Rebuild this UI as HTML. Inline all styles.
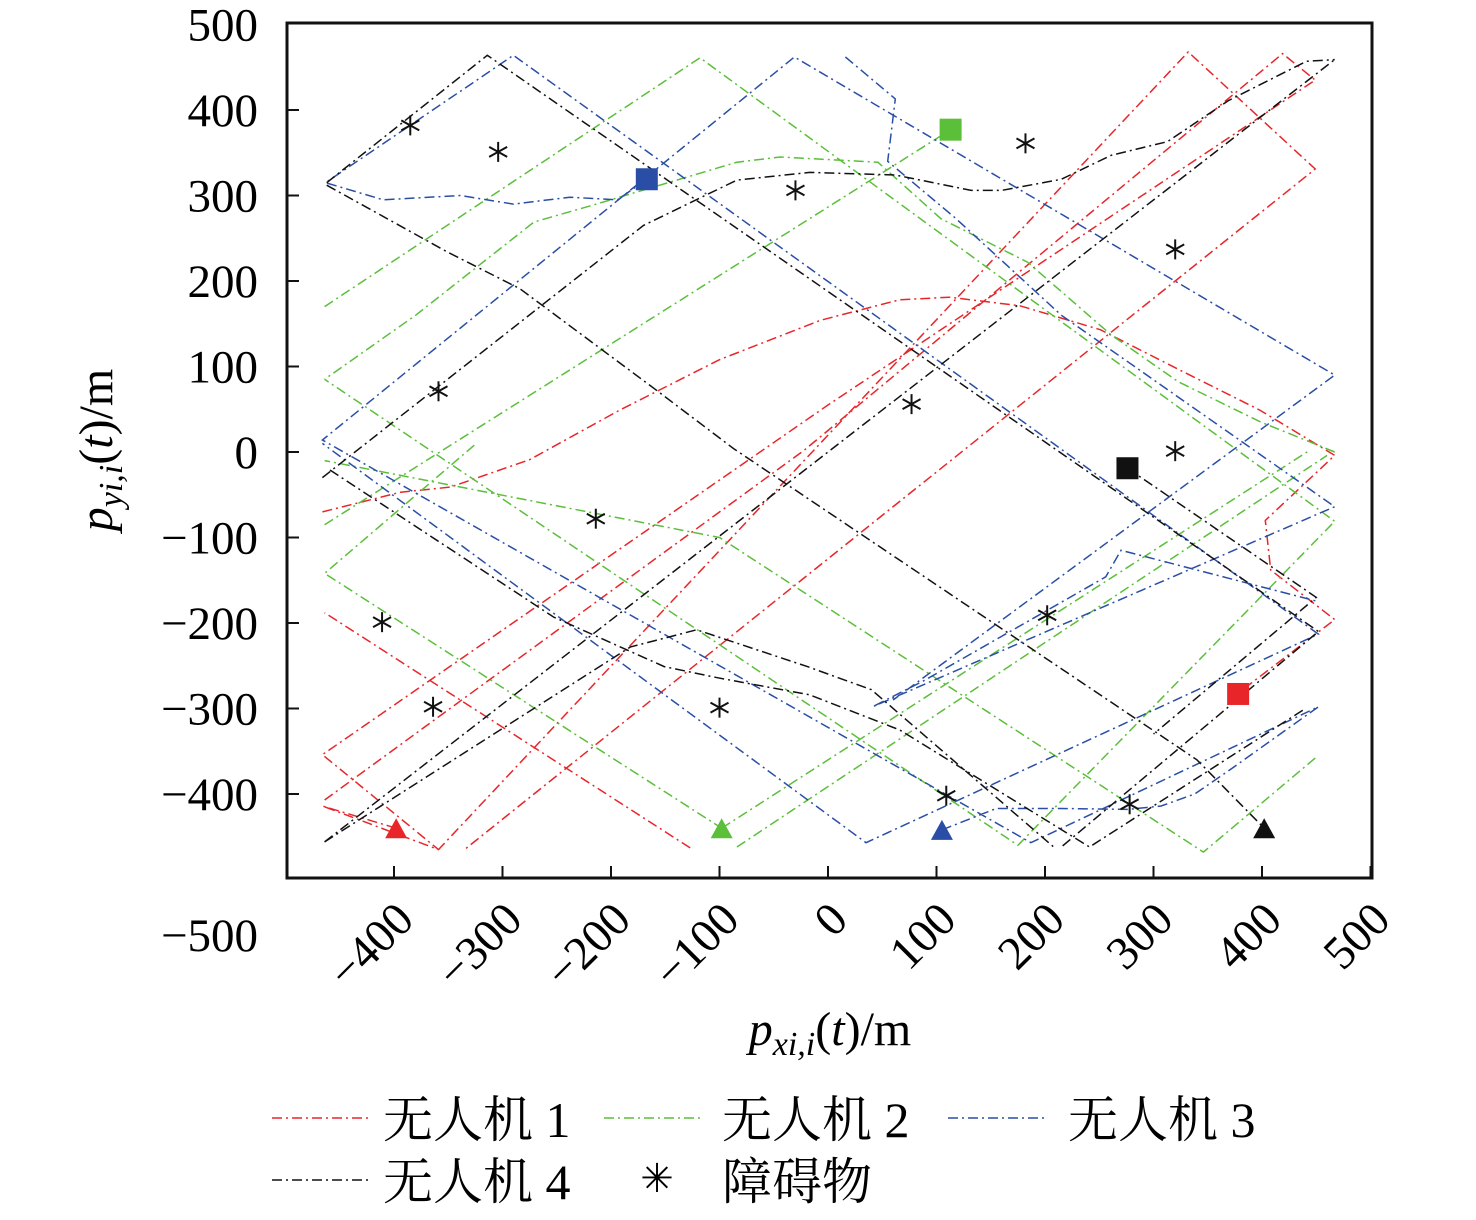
<!DOCTYPE html>
<html><head><meta charset="utf-8"><style>
html,body{margin:0;padding:0;background:#fff}
svg text{font-family:"Liberation Serif","Noto Serif CJK SC","Noto Sans CJK SC",serif}
</style></head><body>
<svg id="chart" width="1476" height="1215" viewBox="0 0 1476 1215" xmlns="http://www.w3.org/2000/svg">
<rect x="287" y="23" width="1085" height="855" fill="none" stroke="#111" stroke-width="3"/>
<g id="grid-ticks"></g>
<g id="series"></g>
<g id="labels"></g>
<text x="112" y="450" font-size="48" text-anchor="middle" transform="rotate(-90 112 450)"><tspan font-style="italic">p</tspan><tspan font-style="italic" font-size="34" dy="10">yi,i</tspan><tspan dy="-10">(</tspan><tspan font-style="italic">t</tspan><tspan>)/m</tspan></text>
<text x="830" y="1045" font-size="48" text-anchor="middle"><tspan font-style="italic">p</tspan><tspan font-style="italic" font-size="34" dy="10">xi,i</tspan><tspan dy="-10">(</tspan><tspan font-style="italic">t</tspan><tspan>)/m</tspan></text>
<g font-size="50">
 <g><line x1="272" y1="1118" x2="372" y2="1118" stroke="#e8262a" stroke-width="1.6" stroke-dasharray="10,4,2,4"/><text x="383" y="1137">无人机 1</text></g>
 <g><line x1="604" y1="1118" x2="704" y2="1118" stroke="#5bbf3a" stroke-width="1.6" stroke-dasharray="10,4,2,4"/><text x="722" y="1137">无人机 2</text></g>
 <g><line x1="948" y1="1118" x2="1048" y2="1118" stroke="#2a4ea6" stroke-width="1.6" stroke-dasharray="10,4,2,4"/><text x="1068" y="1137">无人机 3</text></g>
 <g><line x1="272" y1="1180" x2="372" y2="1180" stroke="#111" stroke-width="1.6" stroke-dasharray="10,4,2,4"/><text x="383" y="1199">无人机 4</text></g>
 <g><text x="657" y="1192" text-anchor="middle" font-size="40" font-family="Liberation Sans, sans-serif">✳</text><text x="722" y="1199">障碍物</text></g>
</g>
</svg>
<script>
const xTicks=[-400,-300,-200,-100,0,100,200,300,400,500];
const yTicks=[500,400,300,200,100,0,-100,-200,-300,-400];
const uav1=[
 [[-398,-440],[-466,-414],[-359,-465],[332,468],[449,331],[-335,-465]],
 [[-127,-463],[-464,-188]],
 [[-464,-407],[-22,2],[419,466],[449,435],[0,55],[-466,-354],[-359,-465]],
 [[-466,-70],[-394,-47],[-348,-41],[-275,-9],[-192,49],[-100,108],[-7,154],[66,178],[112,181],[177,171],[251,143],[324,96],[398,49],[467,-4],[403,-80],[408,-138],[467,-196],[378,-282]]
];
const uav2=[
 [[-98,-440],[444,2]],
 [[-84,-462],[460,-4]],
 [[467,0],[399,35],[323,82],[261,137],[184,222],[104,273],[46,339],[-44,345],[-84,339],[-216,289],[-271,269],[-380,160],[-464,85]],
 [[-326,8],[-464,-142],[-98,-440]],
 [[-464,170],[-118,461],[467,-81],[175,-460],[-464,85]],
 [[-464,-85],[113,377]],
 [[449,-358],[346,-468],[-100,-100],[-464,-10]]
];
const uav3=[
 [[105,-442],[155,-417],[215,-417],[277,-418],[307,-414],[338,-400],[369,-373],[452,-298],[187,-457],[-466,14],[-31,462],[467,90],[60,-290]],
 [[-167,319],[-194,295],[-238,298],[-290,290],[-339,300],[-410,295],[-463,315],[-290,464],[452,-213],[35,-457],[-466,10]],
 [[16,462],[62,413],[55,340],[118,273],[215,160],[467,-64],[41,-298],[89,-267],[194,-191],[256,-146],[270,-115],[452,-175]]
];
const uav4=[
 [[-462,315],[-314,464],[452,-210],[215,-462]],
 [[-464,-456],[-182,-228],[-121,-208],[-19,-251],[40,-278],[208,-462]],
 [[-459,-21],[-253,-193],[-151,-251],[-102,-264],[-17,-284],[66,-325],[241,-462],[440,-300]],
 [[-462,312],[-351,234],[-284,191],[-160,74],[-87,4],[340,-360],[402,-440]],
 [[-464,-456],[467,459]],
 [[-466,-30],[-170,265],[-84,318],[-17,327],[62,324],[132,306],[160,306],[215,319],[261,347],[313,363],[369,411],[441,457],[467,459]],
 [[276,-19],[450,-170],[300,-330]]
];
const obstacles=[[-385,382],[-304,351],[-30,306],[182,361],[320,237],[-359,71],[77,56],[320,1],[-214,-78],[-411,-199],[202,-191],[-364,-298],[-100,-299],[109,-402],[278,-412]];
const starts=[[-398,-440],[-98,-440],[105,-442],[402,-440]];
const ends=[[378,-283],[113,377],[-167,319],[276,-19]];
const colors=["#e8262a","#5bbf3a","#2a4ea6","#111111"];

const NS="http://www.w3.org/2000/svg";
function xs(v){return 828+v*1.085;}
function ys(v){return 452-v*0.855;}
const gT=document.getElementById('grid-ticks');
const gS=document.getElementById('series');
const gL=document.getElementById('labels');
xTicks.forEach(t=>{
 const l=document.createElementNS(NS,'line');
 l.setAttribute('x1',xs(t));l.setAttribute('x2',xs(t));l.setAttribute('y1',878);l.setAttribute('y2',866);
 l.setAttribute('stroke','#111');l.setAttribute('stroke-width','2');
 
 
 gT.appendChild(l);
 const tx=document.createElementNS(NS,'text');
 const ax=xs(t)+22, ay=922;
 tx.setAttribute('x',ax);tx.setAttribute('y',ay);tx.setAttribute('font-size','47');tx.setAttribute('text-anchor','end');
 tx.setAttribute('transform','rotate(-45 '+ax+' '+ay+')');
 tx.textContent=(t<0?'\u2212'+(-t):String(t));
 
 
 gL.appendChild(tx);
});
yTicks.forEach(t=>{
 if(t<500&&t>-500){
 const l=document.createElementNS(NS,'line');
 l.setAttribute('x1',287);l.setAttribute('x2',299);l.setAttribute('y1',ys(t));l.setAttribute('y2',ys(t));
 l.setAttribute('stroke','#111');l.setAttribute('stroke-width','2');
 
 
 gT.appendChild(l);}
 const tx=document.createElementNS(NS,'text');
 tx.setAttribute('x',258);tx.setAttribute('y',ys(t)+16);tx.setAttribute('font-size','47');tx.setAttribute('text-anchor','end');
 tx.textContent=(t<0?'\u2212'+(-t):String(t));
 
 
 gL.appendChild(tx);
});
const minus=document.createElementNS(NS,'text');
minus.setAttribute('x',258);minus.setAttribute('y',951);minus.setAttribute('font-size','47');minus.setAttribute('text-anchor','end');
minus.textContent='\u2212500';


gL.appendChild(minus);

[uav1,uav2,uav3,uav4].forEach((paths,i)=>{
 paths.forEach(p=>{
  const pl=document.createElementNS(NS,'polyline');
  pl.setAttribute('points',p.map(q=>xs(q[0]).toFixed(1)+','+ys(q[1]).toFixed(1)).join(' '));
  pl.setAttribute('fill','none');pl.setAttribute('stroke',colors[i]);pl.setAttribute('stroke-width','1.5');
  pl.setAttribute('stroke-dasharray','10,4,2,4');
  
  
  gS.appendChild(pl);
 });
});
obstacles.forEach(o=>{
 const g=document.createElementNS(NS,'g');
 
 
 const cx=xs(o[0]),cy=ys(o[1]);
 [[0,-10,0,10],[-9,-5,9,5],[-9,5,9,-5]].forEach(s=>{
  const l=document.createElementNS(NS,'line');
  l.setAttribute('x1',cx+s[0]);l.setAttribute('y1',cy+s[1]);l.setAttribute('x2',cx+s[2]);l.setAttribute('y2',cy+s[3]);
  l.setAttribute('stroke','#111');l.setAttribute('stroke-width','2');
  g.appendChild(l);
 });
 gS.appendChild(g);
});
starts.forEach((s,i)=>{
 const cx=xs(s[0]),cy=ys(s[1]);
 const t=document.createElementNS(NS,'polygon');
 t.setAttribute('points',(cx-11)+','+(cy+10)+' '+(cx+11)+','+(cy+10)+' '+cx+','+(cy-10));
 t.setAttribute('fill',colors[i]);
 
 
 gS.appendChild(t);
});
ends.forEach((s,i)=>{
 const cx=xs(s[0]),cy=ys(s[1]);
 const r=document.createElementNS(NS,'rect');
 r.setAttribute('x',cx-11);r.setAttribute('y',cy-11);r.setAttribute('width',22);r.setAttribute('height',22);
 r.setAttribute('fill',colors[i]);
 
 
 gS.appendChild(r);
});
</script>
</body></html>
